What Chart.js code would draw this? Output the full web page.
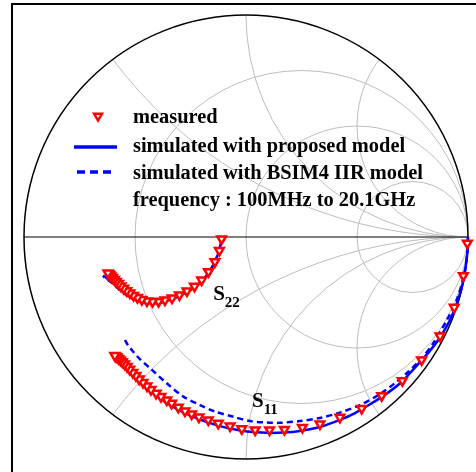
<!DOCTYPE html>
<html>
<head>
<meta charset="utf-8">
<script src="https://cdn.jsdelivr.net/npm/chart.js@4/dist/chart.umd.min.js"></script>
<style>
  html, body { margin: 0; padding: 0; background: #ffffff; }
  #wrap { position: relative; width: 476px; height: 472px; overflow: hidden; }
  canvas { display: block; }
</style>
</head>
<body>
<div id="wrap"><canvas id="c" width="476" height="472"></canvas></div>
<script>
// ---- Smith chart grid values ----
const resistanceCircles = [1/3, 1, 3];
const reactanceArcs = [0.5, 1, 2];

// ---- Legend / label text ----
const legendLabels = [
  'measured',
  'simulated with proposed model',
  'simulated with BSIM4 IIR model',
  'frequency : 100MHz to 20.1GHz'
];
const curveLabels = [
  { main: 'S', sub: '22', re: -0.148, im: -0.284 },
  { main: 'S', sub: '11', re: 0.027, im: -0.765 }
];

// ---- S11 measured (reflection coefficient, real / imag) ----
const s11MeasRe = [0.997,0.979,0.938,0.874,0.791,0.704,0.611,0.521,0.423,0.333,0.254,0.173,0.106,0.041,-0.019,-0.072,-0.125,-0.170,-0.212,-0.245,-0.275,-0.305,-0.335,-0.357,-0.383,-0.405,-0.428,-0.446,-0.464,-0.481,-0.496,-0.510,-0.524,-0.536,-0.547,-0.557,-0.566,-0.574,-0.581,-0.587,-0.591];
const s11MeasIm = [-0.028,-0.174,-0.317,-0.446,-0.554,-0.647,-0.715,-0.772,-0.812,-0.842,-0.858,-0.867,-0.869,-0.869,-0.864,-0.851,-0.839,-0.824,-0.811,-0.797,-0.784,-0.767,-0.749,-0.734,-0.719,-0.704,-0.687,-0.671,-0.655,-0.640,-0.624,-0.610,-0.596,-0.583,-0.572,-0.562,-0.554,-0.547,-0.541,-0.537,-0.534];

// ---- S11 simulated, proposed model ----
const s11PropRe = [1.000,0.998,0.991,0.980,0.955,0.919,0.874,0.820,0.761,0.703,0.640,0.568,0.491,0.423,0.333,0.243,0.167,0.093,0.005,-0.072,-0.140,-0.207,-0.275,-0.342,-0.396,-0.441,-0.487,-0.532,-0.568,-0.595];
const s11PropIm = [0.000,-0.059,-0.122,-0.194,-0.284,-0.374,-0.453,-0.523,-0.588,-0.651,-0.701,-0.748,-0.793,-0.824,-0.856,-0.874,-0.881,-0.882,-0.876,-0.863,-0.845,-0.822,-0.793,-0.757,-0.721,-0.685,-0.644,-0.599,-0.565,-0.538];

// ---- S11 simulated, BSIM4 IIR model ----
const s11BsimRe = [1.000,0.996,0.980,0.951,0.905,0.847,0.791,0.730,0.671,0.604,0.514,0.423,0.333,0.243,0.153,0.093,0.018,-0.057,-0.140,-0.207,-0.282,-0.357,-0.432,-0.478,-0.508,-0.532,-0.545];
const s11BsimIm = [0.000,-0.081,-0.180,-0.279,-0.374,-0.473,-0.547,-0.608,-0.658,-0.707,-0.757,-0.791,-0.815,-0.829,-0.837,-0.836,-0.829,-0.810,-0.786,-0.757,-0.719,-0.659,-0.591,-0.550,-0.517,-0.487,-0.464];

// ---- S22 measured ----
const s22MeasRe = [-0.110,-0.120,-0.140,-0.169,-0.200,-0.232,-0.266,-0.300,-0.333,-0.365,-0.394,-0.421,-0.446,-0.469,-0.489,-0.507,-0.523,-0.537,-0.551,-0.563,-0.574,-0.584,-0.593,-0.601,-0.608,-0.614,-0.619,-0.622];
const s22MeasIm = [-0.009,-0.061,-0.111,-0.156,-0.194,-0.222,-0.243,-0.261,-0.275,-0.284,-0.290,-0.291,-0.288,-0.282,-0.273,-0.263,-0.252,-0.242,-0.231,-0.221,-0.210,-0.200,-0.191,-0.182,-0.176,-0.170,-0.165,-0.162];

// ---- S22 simulated, proposed model ----
const s22PropRe = [-0.108,-0.115,-0.126,-0.144,-0.167,-0.194,-0.225,-0.261,-0.297,-0.338,-0.378,-0.419,-0.455,-0.487,-0.518,-0.550,-0.577,-0.604,-0.626,-0.644];
const s22PropIm = [-0.002,-0.036,-0.077,-0.119,-0.160,-0.194,-0.221,-0.243,-0.264,-0.282,-0.293,-0.297,-0.295,-0.286,-0.270,-0.250,-0.228,-0.203,-0.187,-0.173];

// ---- S22 simulated, BSIM4 IIR model ----
const s22BsimRe = [-0.108,-0.116,-0.127,-0.145,-0.168,-0.196,-0.228,-0.264,-0.300,-0.340,-0.381,-0.421,-0.457,-0.489,-0.520,-0.552,-0.579,-0.606,-0.628,-0.644];
const s22BsimIm = [-0.002,-0.038,-0.079,-0.122,-0.162,-0.196,-0.223,-0.246,-0.266,-0.284,-0.295,-0.300,-0.297,-0.288,-0.273,-0.252,-0.230,-0.205,-0.189,-0.176];

const pts = (re, im) => re.map((v, i) => ({ x: v, y: im[i] }));

const RED = '#ff0000';
const BLUE = '#0000ff';
const SERIF = '"Liberation Serif", "Times New Roman", serif';

function drawTriangle(ctx, x, y, r) {
  ctx.save();
  ctx.beginPath();
  ctx.moveTo(x, y + r);
  ctx.lineTo(x - 0.866 * r, y - 0.5 * r);
  ctx.lineTo(x + 0.866 * r, y - 0.5 * r);
  ctx.closePath();
  ctx.fillStyle = '#ffffff';
  ctx.fill();
  ctx.strokeStyle = RED;
  ctx.lineWidth = 2.5;
  ctx.stroke();
  ctx.restore();
}

const smithGrid = {
  id: 'smithGrid',
  beforeDatasetsDraw(chart) {
    const ctx = chart.ctx;
    const xs = chart.scales.x, ys = chart.scales.y;
    const cx = xs.getPixelForValue(0), cy = ys.getPixelForValue(0);
    const R = xs.getPixelForValue(1) - cx;
    // frame (left and top edges visible)
    ctx.save();
    ctx.strokeStyle = '#000000';
    ctx.lineWidth = 2;
    ctx.beginPath();
    ctx.moveTo(12, 480);
    ctx.lineTo(12, 4);
    ctx.lineTo(480, 4);
    ctx.stroke();
    ctx.restore();

    ctx.save();
    ctx.beginPath();
    ctx.arc(cx, cy, R, 0, Math.PI * 2);
    ctx.clip();
    ctx.strokeStyle = '#bdbdbd';
    ctx.lineWidth = 1;
    resistanceCircles.forEach(r => {
      const c = r / (1 + r), rad = 1 / (1 + r);
      ctx.beginPath();
      ctx.arc(xs.getPixelForValue(c), cy, rad * R, 0, Math.PI * 2);
      ctx.stroke();
    });
    reactanceArcs.forEach(xv => {
      [1, -1].forEach(s => {
        ctx.beginPath();
        ctx.arc(xs.getPixelForValue(1), ys.getPixelForValue(s / xv), R / xv, 0, Math.PI * 2);
        ctx.stroke();
      });
    });
    ctx.restore();

    ctx.save();
    ctx.strokeStyle = '#000000';
    ctx.lineWidth = 1;
    ctx.beginPath();
    ctx.moveTo(xs.getPixelForValue(-1), cy);
    ctx.lineTo(xs.getPixelForValue(1), cy);
    ctx.stroke();
    ctx.lineWidth = 1.5;
    ctx.beginPath();
    ctx.arc(cx, cy, R, 0, Math.PI * 2);
    ctx.stroke();
    ctx.restore();
  }
};

const overlay = {
  id: 'overlay',
  afterDraw(chart) {
    const ctx = chart.ctx;
    const xs = chart.scales.x, ys = chart.scales.y;
    ctx.save();
    // legend
    const baselines = [122.5, 151.5, 178.5, 205.5];
    ctx.font = 'bold 20.4px ' + SERIF;
    ctx.fillStyle = '#000000';
    ctx.textBaseline = 'alphabetic';
    legendLabels.forEach((t, i) => ctx.fillText(t, 133, baselines[i]));
    drawTriangle(ctx, 98, 116, 4.5);
    ctx.strokeStyle = BLUE;
    ctx.lineWidth = 3.5;
    ctx.beginPath(); ctx.moveTo(74, 147); ctx.lineTo(117, 147); ctx.stroke();
    ctx.setLineDash([8, 5]);
    ctx.beginPath(); ctx.moveTo(77, 172); ctx.lineTo(111, 172); ctx.stroke();
    ctx.setLineDash([]);
    // curve labels
    ctx.fillStyle = '#000000';
    curveLabels.forEach(l => {
      const px = xs.getPixelForValue(l.re), py = ys.getPixelForValue(l.im);
      ctx.font = 'bold 21px ' + SERIF;
      ctx.fillText(l.main, px, py);
      const w = ctx.measureText(l.main).width;
      ctx.font = 'bold 15px ' + SERIF;
      ctx.fillText(l.sub, px + w, py + 7);
    });
    ctx.restore();
  }
};

const markerStyle = {
  showLine: false,
  pointStyle: 'triangle',
  rotation: 180,
  pointRadius: 5,
  pointBorderWidth: 2.5,
  pointBorderColor: RED,
  pointBackgroundColor: '#ffffff',
  clip: false
};
const lineStyle = {
  showLine: true,
  pointRadius: 0,
  borderColor: BLUE,
  borderWidth: 2.5,
  tension: 0.3,
  clip: false
};

new Chart(document.getElementById('c'), {
  type: 'scatter',
  data: {
    datasets: [
      Object.assign({ label: 'S11 measured', data: pts(s11MeasRe, s11MeasIm) }, markerStyle),
      Object.assign({ label: 'S22 measured', data: pts(s22MeasRe, s22MeasIm) }, markerStyle),
      Object.assign({ label: 'S11 proposed', data: pts(s11PropRe, s11PropIm) }, lineStyle),
      Object.assign({ label: 'S22 proposed', data: pts(s22PropRe, s22PropIm) }, lineStyle),
      Object.assign({ label: 'S11 BSIM4', data: pts(s11BsimRe, s11BsimIm), borderDash: [6, 4] }, lineStyle),
      Object.assign({ label: 'S22 BSIM4', data: pts(s22BsimRe, s22BsimIm), borderDash: [6, 4] }, lineStyle)
    ]
  },
  options: {
    responsive: false,
    animation: false,
    layout: { padding: { left: 24, right: 8, top: 15, bottom: 13 } },
    scales: {
      x: { type: 'linear', min: -1, max: 1, display: false },
      y: { type: 'linear', min: -1, max: 1, display: false }
    },
    plugins: { legend: { display: false }, tooltip: { enabled: false } }
  },
  plugins: [smithGrid, overlay]
});
</script>
</body>
</html>
